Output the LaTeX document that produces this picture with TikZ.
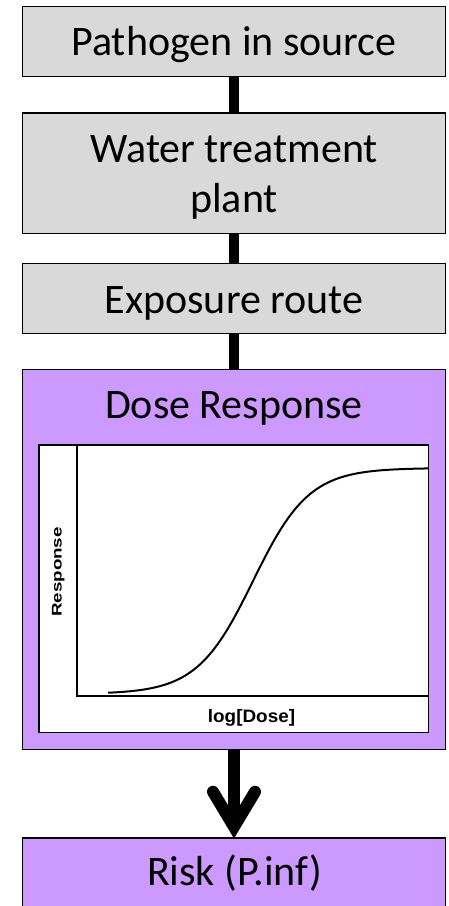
\documentclass[tikz,border=0pt]{standalone}
\usepackage{fontspec}
\usepackage{graphicx}
\setmainfont{Carlito}
\newfontfamily\plotfont{Liberation Sans}
\usetikzlibrary{calc}
\definecolor{boxgray}{HTML}{D9D9D9}
\definecolor{boxpurple}{HTML}{CC99FF}
\begin{document}
\begin{tikzpicture}[x=1pt,y=-1pt,
  box/.style={draw=black, line width=1.5pt, minimum width=423pt, inner sep=0pt, outer sep=0pt},
  graybox/.style={box, fill=boxgray},
  purplebox/.style={box, fill=boxpurple},
  lbl/.style={font=\fontsize{42}{50}\selectfont, anchor=base, inner sep=0pt, outer sep=0pt},
  link/.style={line width=10pt},
  bigarrow/.style={line width=12pt},
  thinline/.style={line width=1.5pt},
  axlbl/.style={inner sep=0pt, outer sep=0pt, anchor=base}]
\useasboundingbox (0,0) rectangle (448,906);
\fill[white] (0,0) rectangle (448,906);

% boxes
\node[graybox, minimum height=70pt] (src) at (234,41.25) {};
\node[graybox, minimum height=120.5pt] (wtp) at (234,173) {};
\node[graybox, minimum height=70pt] (exp) at (234,298.5) {};
\node[purplebox, minimum height=380pt] (dr) at (234,559.5) {};
\node[purplebox, minimum height=80pt] (risk) at (234,877.75) {};

% connectors
\draw[link] (src.south) -- (wtp.north);
\draw[link] (wtp.south) -- (exp.north);
\draw[link] (exp.south) -- (dr.north);
\draw[bigarrow, shorten >=12pt] (dr.south) -- (risk.north);
\draw[bigarrow, line cap=round, line join=miter]
  ($(risk.north)+(-21,-46)$) -- ($(risk.north)+(0,-11)$) -- ($(risk.north)+(21,-46)$);

% labels
\node[lbl] (tsrc) at (234,55) {Pathogen in source};
\node[lbl, align=center] (twtp) at (234,212) {Water treatment\\plant};
\node[lbl] (texp) at (234,313) {Exposure route};
\node[lbl] (tdr) at (234,418) {Dose Response};
\node[lbl] (trisk) at (234.5,885) {Risk (P.inf)};

% plot
\node[draw=black, thinline, fill=white, minimum width=389.5pt, minimum height=287.5pt, inner sep=0pt, outer sep=0pt] (plot) at (233.5,588.5) {};
\draw[thinline] (77,444.75) -- (77,696) -- (428.25,696);
\draw[line width=2pt, domain=108:428, samples=90, smooth]
  plot (\x, {694 - 226/(1+exp(-(\x-253)/28))});
\node[axlbl, rotate=90, font=\plotfont\bfseries\fontsize{14}{16}\selectfont] (ylab) at (61.7,572) {\scalebox{1.34}[1]{Response}};
\node[axlbl, font=\plotfont\bfseries\fontsize{18}{20}\selectfont] (xlab) at (251.5,722.3) {\scalebox{1.05}[1]{log[Dose]}};
\end{tikzpicture}
\end{document}
